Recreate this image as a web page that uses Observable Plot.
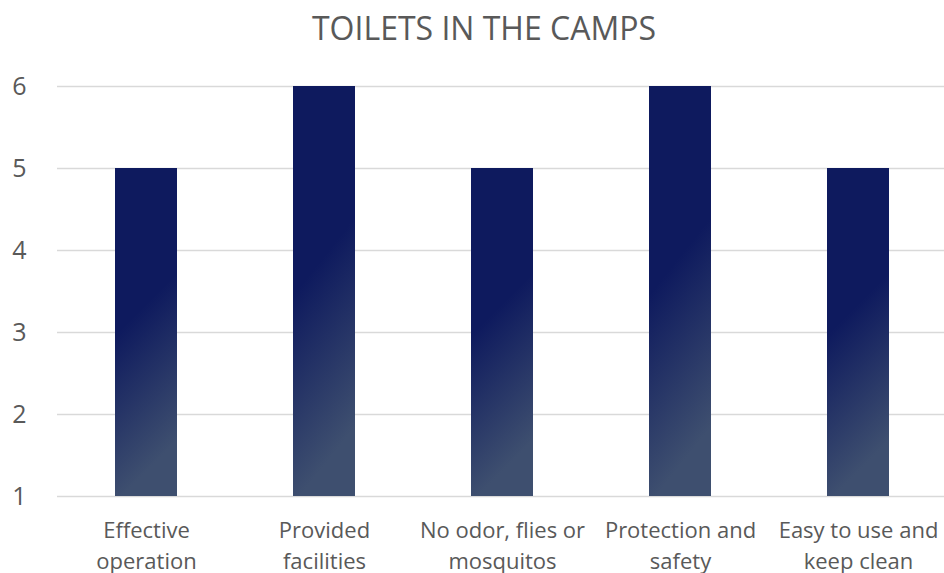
<!DOCTYPE html>
<html>
<head>
<meta charset="utf-8">
<script src="https://cdn.jsdelivr.net/npm/d3@7"></script>
<script src="https://cdn.jsdelivr.net/npm/@observablehq/plot@0.6"></script>
<style>
  html, body { margin: 0; padding: 0; background: #fff; overflow: hidden; width: 944px; height: 573px; }
  #title { height: 56px; line-height: 56px; text-align: center; padding-left: 24px; font-family: "Open Sans", sans-serif; font-size: 32px; color: #595959; font-weight: 400; }
  svg { display: block; overflow: visible; }
</style>
</head>
<body>
<div id="title">TOILETS IN THE CAMPS</div>
<div id="chart"></div>
<script>
const categories = ["Effective operation", "Provided facilities", "No odor, flies or mosquitos", "Protection and safety", "Easy to use and keep clean"];
const tickLabels = ["Effective\noperation", "Provided\nfacilities", "No odor, flies or\nmosquitos", "Protection and\nsafety", "Easy to use and\nkeep clean"];
const values = [5, 6, 5, 6, 5];
const yTicks = [1, 2, 3, 4, 5, 6];

const data = categories.map((c, i) => ({category: c, value: values[i]}));
const labelOf = new Map(categories.map((c, i) => [c, tickLabels[i]]));

const gradientDefs = () => {
  const defs = d3.create("svg:defs");
  const g = defs.append("linearGradient")
    .attr("id", "barGrad")
    .attr("x1", "0").attr("y1", "0.42")
    .attr("x2", "0.11").attr("y2", "1");
  g.append("stop").attr("offset", "0").attr("stop-color", "#0e1a5e");
  g.append("stop").attr("offset", "0.15").attr("stop-color", "#0e1a5e");
  g.append("stop").attr("offset", "1").attr("stop-color", "#3e4f6f");
  return defs.node();
};

const chart = Plot.plot({
  width: 944,
  height: 517,
  marginTop: 30,
  marginBottom: 77,
  marginLeft: 57,
  marginRight: -3,
  style: {fontFamily: "'Open Sans', sans-serif", color: "#595959", background: "#fff"},
  x: {domain: categories, paddingInner: 0.65, paddingOuter: 0.325, label: null},
  y: {domain: [1, 6], label: null},
  marks: [
    gradientDefs,
    Plot.gridY(yTicks, {stroke: "#d9d9d9", strokeOpacity: 1, strokeWidth: 1.5}),
    Plot.barY(data, {x: "category", y1: 1, y2: "value", fill: "url(#barGrad)"}),
    Plot.axisY(yTicks, {tickSize: 0, tickPadding: 0, dx: -31, fontSize: 25, fill: "#595959", label: null, textAnchor: "end", tickFormat: "d"}),
    Plot.axisX({tickSize: 0, tickPadding: 20, fontSize: 22, fill: "#595959", label: null, lineHeight: 1.4, tickFormat: d => labelOf.get(d), textAnchor: "middle"})
  ]
});
document.getElementById("chart").appendChild(chart);
</script>
</body>
</html>
